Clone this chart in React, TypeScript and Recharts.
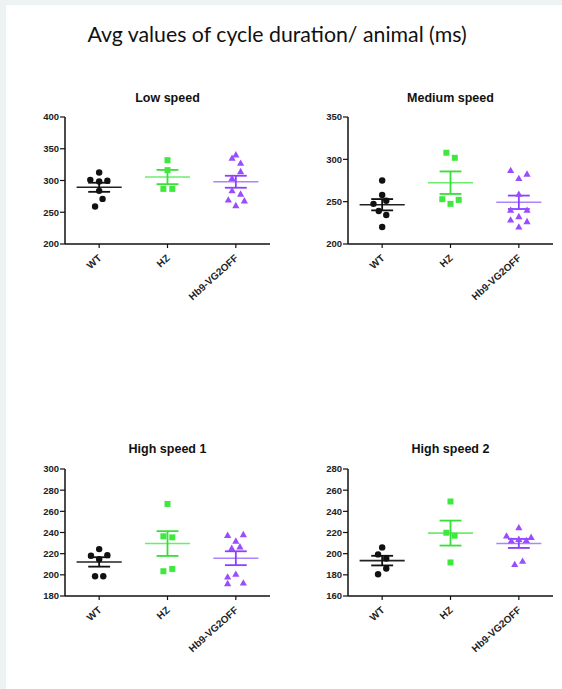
import { ReferenceLine, Scatter, ScatterChart, XAxis, YAxis } from "recharts";

const groups = ["WT", "HZ", "Hb9-VG2OFF"];
const pointColors = ["#111111", "#3ee83e", "#9a4dff"];
const semColors = ["#111111", "#36e036", "#8c40ff"];
const meanColors = ["#222222", "#6cee6c", "#ad84ff"];

// values (ms) and horizontal scatter offset inside each category
const lowWT = [312.6, 301, 298.4, 299.5, 283.7, 271, 259];
const lowWTx = [0, -0.13, 0, 0.12, 0, 0.05, -0.06];
const lowHZ = [332, 316.3, 286.8, 286.8];
const lowHZx = [0, 0, -0.06, 0.07];
const lowHb9 = [340.3, 335.1, 327.2, 313.9, 303.5, 283.9, 278.5, 269.4, 267.9, 260.4];
const lowHb9x = [0, -0.055, 0.07, 0.07, -0.055, -0.055, 0.07, -0.11, 0.125, 0];

const medWT = [275, 258, 247.4, 251, 239, 234.3, 220];
const medWTx = [0, 0, -0.127, 0.06, -0.05, 0.06, 0];
const medHZ = [307.8, 301.8, 252.9, 252.1, 247.4];
const medHZx = [-0.06, 0.063, -0.12, 0.12, 0];
const medHb9 = [286.8, 282.5, 277.4, 258.8, 239.9, 239.9, 228.4, 232.4, 226.4, 220.1];
const medHb9x = [-0.12, 0.12, 0, 0, -0.12, 0.12, -0.12, 0, 0.12, 0];

const hi1WT = [224.3, 218, 218.6, 214.8, 198.7, 198.7];
const hi1WTx = [0, -0.12, 0.12, 0, -0.06, 0.06];
const hi1HZ = [267, 236.4, 235.4, 203.4, 205.6];
const hi1HZx = [0, -0.06, 0.07, -0.06, 0.07];
const hi1Hb9 = [237.3, 238, 231.9, 225, 226.5, 198, 200.6, 191.7, 192.3];
const hi1Hb9x = [-0.12, 0.11, 0, -0.06, 0.06, -0.12, 0, -0.12, 0.11];

const hi2WT = [205.9, 199.3, 195.4, 186, 180.6];
const hi2WTx = [0, -0.06, 0.06, 0.06, -0.06];
const hi2HZ = [249.3, 219.8, 217, 191.7];
const hi2HZx = [0, -0.06, 0.06, 0];
const hi2Hb9 = [224.5, 216.7, 215.4, 212, 213.5, 212.5, 189.8, 192.9];
const hi2Hb9x = [0, -0.18, 0.18, -0.11, 0, 0.11, -0.06, 0.055];

const lowTicks = [200, 250, 300, 350, 400];
const medTicks = [200, 250, 300, 350];
const hi1Ticks = [180, 200, 220, 240, 260, 280, 300];
const hi2Ticks = [160, 180, 200, 220, 240, 260, 280];

const panels = [
  { title: "Low speed", left: 65, top: 117, titleY: 98, ticks: lowTicks, sets: [[lowWT, lowWTx], [lowHZ, lowHZx], [lowHb9, lowHb9x]] },
  { title: "Medium speed", left: 348, top: 117, titleY: 98, ticks: medTicks, sets: [[medWT, medWTx], [medHZ, medHZx], [medHb9, medHb9x]] },
  { title: "High speed 1", left: 65, top: 469, titleY: 449, ticks: hi1Ticks, sets: [[hi1WT, hi1WTx], [hi1HZ, hi1HZx], [hi1Hb9, hi1Hb9x]] },
  { title: "High speed 2", left: 348, top: 469, titleY: 449, ticks: hi2Ticks, sets: [[hi2WT, hi2WTx], [hi2HZ, hi2HZx], [hi2Hb9, hi2Hb9x]] },
];

const font = "'Liberation Sans', Arial, sans-serif";

function stats(values: number[]) {
  const n = values.length;
  const mean = values.reduce((s, v) => s + v, 0) / n;
  const sd = Math.sqrt(values.reduce((s, v) => s + (v - mean) ** 2, 0) / (n - 1));
  return { mean, sem: sd / Math.sqrt(n) };
}

function Marker({ cx, cy, kind, color }: { cx?: number; cy?: number; kind: number; color: string }) {
  if (cx == null || cy == null) return null;
  if (kind === 0) return <circle cx={cx} cy={cy} r={3.2} fill={color} />;
  if (kind === 1) return <rect x={cx - 3} y={cy - 3} width={6} height={6} fill={color} />;
  return <polygon points={`${cx},${cy - 3.8} ${cx + 3.6},${cy + 2.6} ${cx - 3.6},${cy + 2.6}`} fill={color} />;
}

function XTick({ x, y, payload }: { x?: number; y?: number; payload?: { value: number } }) {
  if (x == null || y == null || !payload) return null;
  return (
    <g transform={`translate(${x + 3},${y + 9})`}>
      <text textAnchor="end" transform="rotate(-42)" fontSize={10} fontWeight="bold" fill="#222" fontFamily={font}>
        {groups[payload.value]}
      </text>
    </g>
  );
}

function Panel({ panel }: { panel: (typeof panels)[number] }) {
  const ticks = panel.ticks;
  return (
    <>
      <div style={{ position: "absolute", left: panel.left - 40, width: 285, top: panel.titleY - 8, textAlign: "center", fontFamily: font, fontWeight: "bold", fontSize: 12.5, lineHeight: "16px", color: "#111" }}>
        {panel.title}
      </div>
      <div style={{ position: "absolute", left: panel.left - 57, top: panel.top - 27 }}>
        <ScatterChart width={280} height={250} margin={{ top: 27, right: 18, bottom: 16, left: 0 }}>
          <XAxis
            type="number"
            dataKey="x"
            domain={[-0.5, 2.5]}
            ticks={[0, 1, 2]}
            interval={0}
            height={80}
            axisLine={{ stroke: "#111", strokeWidth: 1.5 }}
            tickLine={{ stroke: "#111", strokeWidth: 1.2 }}
            tickSize={4}
            tickMargin={2}
            tick={<XTick />}
          />
          <YAxis
            type="number"
            dataKey="y"
            domain={[ticks[0], ticks[ticks.length - 1]]}
            ticks={ticks}
            interval={0}
            width={57}
            axisLine={{ stroke: "#111", strokeWidth: 1.5 }}
            tickLine={{ stroke: "#111", strokeWidth: 1.2 }}
            tickSize={5}
            tickMargin={1}
            tick={{ fontSize: 9.5, fontWeight: "bold", fill: "#222", fontFamily: font }}
          />
          {panel.sets.map(([vals, offs], g) => (
            <Scatter
              key={groups[g]}
              data={vals.map((v, i) => ({ x: g + offs[i], y: v }))}
              isAnimationActive={false}
              shape={(p: { cx?: number; cy?: number }) => <Marker cx={p.cx} cy={p.cy} kind={g} color={pointColors[g]} />}
            />
          ))}
          {panel.sets.map(([vals], g) => {
            const { mean, sem } = stats(vals);
            return [
              <ReferenceLine key={`m${g}`} segment={[{ x: g - 0.33, y: mean }, { x: g + 0.33, y: mean }]} stroke={meanColors[g]} strokeWidth={1.6} />,
              <ReferenceLine key={`v${g}`} segment={[{ x: g, y: mean - sem }, { x: g, y: mean + sem }]} stroke={semColors[g]} strokeWidth={1.8} />,
              <ReferenceLine key={`u${g}`} segment={[{ x: g - 0.16, y: mean + sem }, { x: g + 0.16, y: mean + sem }]} stroke={semColors[g]} strokeWidth={1.8} />,
              <ReferenceLine key={`l${g}`} segment={[{ x: g - 0.16, y: mean - sem }, { x: g + 0.16, y: mean - sem }]} stroke={semColors[g]} strokeWidth={1.8} />,
            ];
          })}
        </ScatterChart>
      </div>
    </>
  );
}

export default function App() {
  return (
    <div style={{ position: "relative", width: 562, height: 689, background: "#edf2f2", overflow: "hidden" }}>
      <style>{"body{margin:0}"}</style>
      <div style={{ position: "absolute", left: 6, top: 5, right: 0, bottom: 0, background: "#fff" }} />
      <div style={{ position: "absolute", left: 0, width: 562, top: 20, textAlign: "center", fontFamily: "Lato, 'Open Sans', sans-serif", fontSize: 21.3, lineHeight: "28px", color: "#111" }}>
        <span style={{ position: "relative", left: -4 }}>Avg values of cycle duration/ animal (ms)</span>
      </div>
      {panels.map((p) => <Panel key={p.title} panel={p} />)}
    </div>
  );
}
